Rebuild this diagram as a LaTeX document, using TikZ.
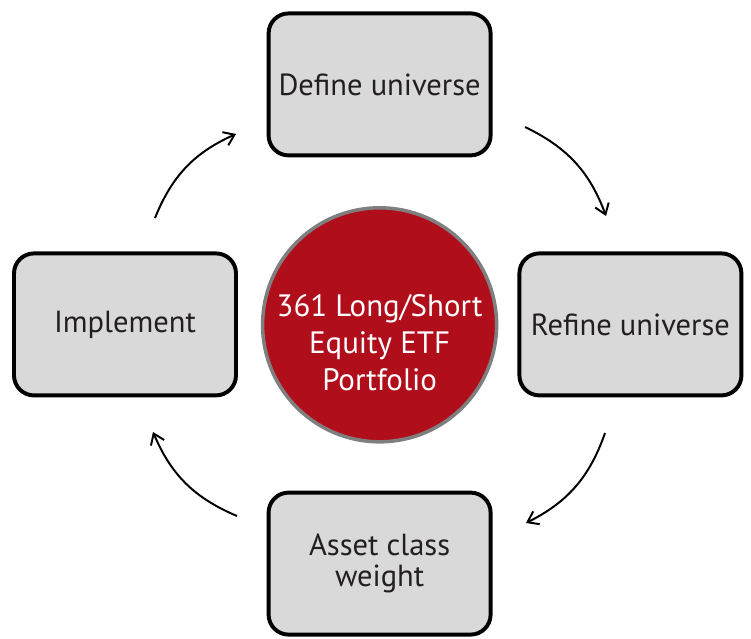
\documentclass[tikz,border=0pt]{standalone}
\usepackage{fontspec}
\setmainfont{PT Sans}
\usepackage{xcolor}
\usetikzlibrary{arrows.meta}
\definecolor{boxgray}{HTML}{D9D9D9}
\definecolor{txtgray}{HTML}{231F20}
\definecolor{etfred}{HTML}{B10E1C}
\definecolor{ringgray}{HTML}{7F7F7F}
\begin{document}
\begin{tikzpicture}[
    stage/.style={draw=black, line width=2.8pt, fill=boxgray, rounded corners=0.5cm,
      minimum width=5.55cm, minimum height=3.55cm, align=center, text=txtgray,
      font=\fontsize{21.7}{22}\selectfont},
    hub/.style={circle, draw=ringgray, line width=2.5pt, fill=etfred, minimum size=5.85cm,
      inner sep=0pt},
    hubtext/.style={align=center, text=white, font=\fontsize{22}{26.5}\selectfont},
    flow/.style={line width=1.4pt, -{Straight Barb[length=2.5mm, width=3.6mm]}}
  ]
    \useasboundingbox (0,0) rectangle (18.775,15.95);
    % boxes and centre
    \node[stage] (define) at (9.49,13.84) {Define universe};
    \node[stage] (refine) at (15.76,7.84) {Refine universe};
    \node[stage] (weight) at (9.49,1.86) {Asset class\\weight};
    \node[stage] (implement) at (3.125,7.84) {Implement};
    \node[hub] (etf) at (9.49,7.83) {};
    \node[hubtext] (etflabel) at ([yshift=-0.45cm]etf.center) {361 Long/Short\\Equity ETF\\Portfolio};
    % arrow ends
    \coordinate (a1s) at (13.125,12.775);
    \coordinate (a1e) at (15.15,10.55);
    \coordinate (a2s) at (15.125,5.125);
    \coordinate (a2e) at (13.15,2.875);
    \coordinate (a3s) at (5.925,3.05);
    \coordinate (a3e) at (3.825,5.15);
    \coordinate (a4s) at (3.875,10.5);
    \coordinate (a4e) at (5.9,12.6);
    \draw[flow] (a1s) to[bend left=22] (a1e);
    \draw[flow] (a2s) to[bend left=22] (a2e);
    \draw[flow] (a3s) to[bend left=22] (a3e);
    \draw[flow] (a4s) to[bend left=22] (a4e);
\end{tikzpicture}
\end{document}
